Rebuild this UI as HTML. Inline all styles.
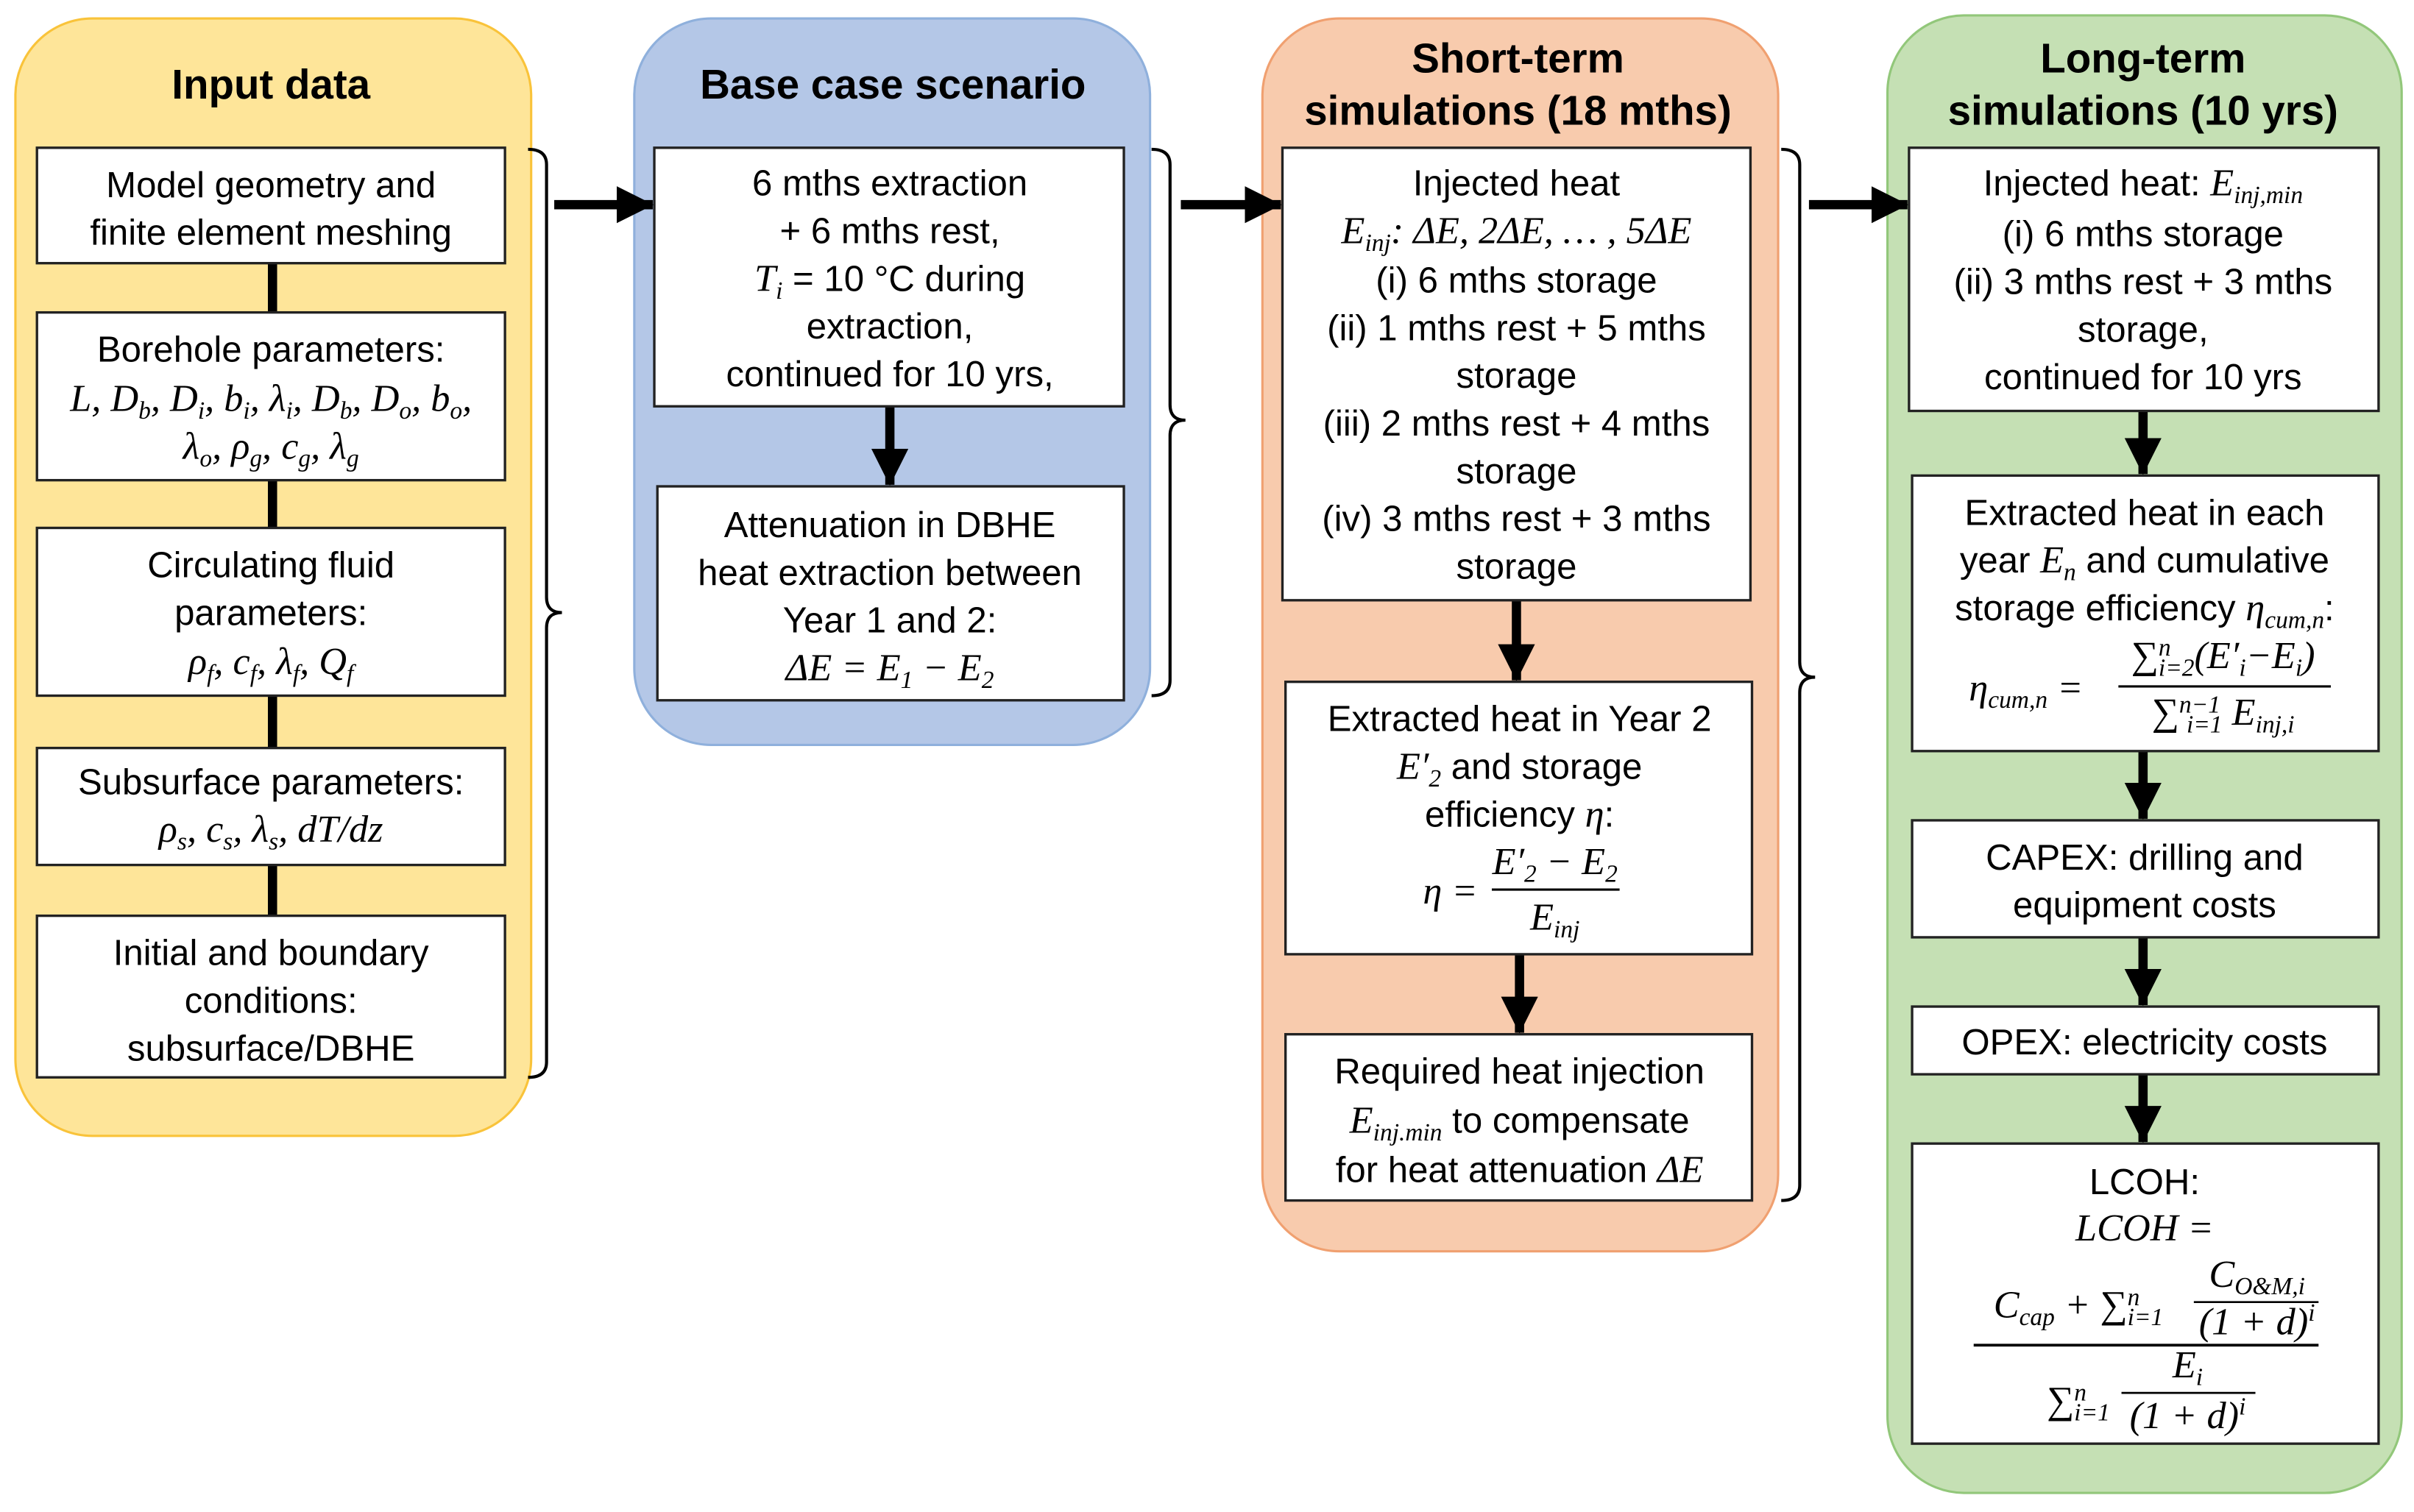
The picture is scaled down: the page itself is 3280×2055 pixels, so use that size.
<!DOCTYPE html>
<html><head><meta charset="utf-8"><style>
html,body{margin:0;padding:0;background:#fff}
svg{display:block}
text{font-family:"Liberation Sans",Arial,sans-serif;font-size:23.5px;fill:#000;text-anchor:middle}
.t{font-weight:bold;font-size:27px}
.m{font-family:"Liberation Serif",serif;font-style:italic;font-size:25px}
.u{font-family:"Liberation Serif",serif;font-style:normal}
.s{font-size:16px}
.box{fill:#fff;stroke:#222;stroke-width:1.6}
.ln{stroke:#000;stroke-width:6;fill:none}
.br{stroke:#000;stroke-width:2;fill:none}
</style></head><body>
<svg width="3280" height="2055" viewBox="0 0 1568 982.4" xmlns="http://www.w3.org/2000/svg">
<defs>
<marker id="ah" markerWidth="5" markerHeight="5" refX="3.9" refY="2" orient="auto" markerUnits="strokeWidth"><path d="M0,0 L4,2 L0,4 z" fill="#000"/></marker>
</defs>
<!-- panels -->
<rect x="10" y="12" width="335" height="726" rx="50" fill="#fee599" stroke="#f9c33a" stroke-width="1.5"/>
<rect x="412" y="12" width="335" height="472" rx="50" fill="#b4c7e7" stroke="#8fb0dc" stroke-width="1.5"/>
<rect x="820" y="12" width="335" height="801" rx="50" fill="#f8cbad" stroke="#f0a070" stroke-width="1.5"/>
<rect x="1226" y="10" width="334" height="960" rx="50" fill="#c5e0b4" stroke="#92c77a" stroke-width="1.5"/>

<!-- titles -->
<text class="t" x="176" y="64">Input data</text>
<text class="t" x="580" y="64">Base case scenario</text>
<text class="t" x="986" y="47">Short-term</text>
<text class="t" x="986" y="81">simulations (18 mths)</text>
<text class="t" x="1392" y="47">Long-term</text>
<text class="t" x="1392" y="81">simulations (10 yrs)</text>

<!-- yellow connectors -->
<line class="ln" x1="177" y1="171" x2="177" y2="203"/>
<line class="ln" x1="177" y1="312" x2="177" y2="343"/>
<line class="ln" x1="177" y1="452" x2="177" y2="486"/>
<line class="ln" x1="177" y1="562" x2="177" y2="595"/>

<!-- yellow boxes -->
<rect class="box" x="24" y="96" width="304" height="75"/>
<text x="176" y="128">Model geometry and</text>
<text x="176" y="159">finite element meshing</text>
<rect class="box" x="24" y="203" width="304" height="109"/>
<text x="176" y="235">Borehole parameters:</text>
<text class="m" x="176" y="267">L, D<tspan class="s" dy="5">b</tspan><tspan dy="-5">, D</tspan><tspan class="s" dy="5">i</tspan><tspan dy="-5">, b</tspan><tspan class="s" dy="5">i</tspan><tspan dy="-5">, λ</tspan><tspan class="s" dy="5">i</tspan><tspan dy="-5">, D</tspan><tspan class="s" dy="5">b</tspan><tspan dy="-5">, D</tspan><tspan class="s" dy="5">o</tspan><tspan dy="-5">, b</tspan><tspan class="s" dy="5">o</tspan><tspan dy="-5">,</tspan></text>
<text class="m" x="176" y="298">λ<tspan class="s" dy="5">o</tspan><tspan dy="-5">, ρ</tspan><tspan class="s" dy="5">g</tspan><tspan dy="-5">, c</tspan><tspan class="s" dy="5">g</tspan><tspan dy="-5">, λ</tspan><tspan class="s" dy="5">g</tspan></text>
<rect class="box" x="24" y="343" width="304" height="109"/>
<text x="176" y="375">Circulating fluid</text>
<text x="176" y="406">parameters:</text>
<text class="m" x="176" y="438">ρ<tspan class="s" dy="5">f</tspan><tspan dy="-5">, c</tspan><tspan class="s" dy="5">f</tspan><tspan dy="-5">, λ</tspan><tspan class="s" dy="5">f</tspan><tspan dy="-5">, Q</tspan><tspan class="s" dy="5">f</tspan></text>
<rect class="box" x="24" y="486" width="304" height="76"/>
<text x="176" y="516">Subsurface parameters:</text>
<text class="m" x="176" y="547">ρ<tspan class="s" dy="5">s</tspan><tspan dy="-5">, c</tspan><tspan class="s" dy="5">s</tspan><tspan dy="-5">, λ</tspan><tspan class="s" dy="5">s</tspan><tspan dy="-5">, dT/dz</tspan></text>
<rect class="box" x="24" y="595" width="304" height="105"/>
<text x="176" y="627">Initial and boundary</text>
<text x="176" y="658">conditions:</text>
<text x="176" y="689">subsurface/DBHE</text>

<!-- braces -->
<path class="br" d="M343,97 q12,0 12,10 V388 q0,10 10,10 q-10,0 -10,10 V690 q0,10 -12,10"/>
<path class="br" d="M748,97 q12,0 12,10 V263 q0,10 10,10 q-10,0 -10,10 V442 q0,10 -12,10"/>
<path class="br" d="M1157,97 q12,0 12,10 V430 q0,10 10,10 q-10,0 -10,10 V770 q0,10 -12,10"/>

<!-- horizontal arrows -->
<line class="ln" x1="360" y1="133" x2="424" y2="133" marker-end="url(#ah)"/>
<line class="ln" x1="767" y1="133" x2="832" y2="133" marker-end="url(#ah)"/>
<line class="ln" x1="1175" y1="133" x2="1239" y2="133" marker-end="url(#ah)"/>

<!-- blue -->
<line class="ln" x1="578" y1="264" x2="578" y2="315" marker-end="url(#ah)"/>
<rect class="box" x="425" y="96" width="305" height="168"/>
<text x="578" y="127">6 mths extraction</text>
<text x="578" y="158">+ 6 mths rest,</text>
<text x="578" y="189"><tspan class="m">T</tspan><tspan class="m s" dy="5">i</tspan><tspan dy="-5"> = 10 °C during</tspan></text>
<text x="578" y="220">extraction,</text>
<text x="578" y="251">continued for 10 yrs,</text>
<rect class="box" x="427" y="316" width="303" height="139"/>
<text x="578" y="349">Attenuation in DBHE</text>
<text x="578" y="380">heat extraction between</text>
<text x="578" y="411">Year 1 and 2:</text>
<text class="m" x="578" y="442">ΔE = E<tspan class="s" dy="5">1</tspan><tspan dy="-5"> − E</tspan><tspan class="s" dy="5">2</tspan></text>

<!-- orange -->
<line class="ln" x1="985" y1="390" x2="985" y2="442" marker-end="url(#ah)"/>
<line class="ln" x1="987" y1="620" x2="987" y2="671" marker-end="url(#ah)"/>
<rect class="box" x="833" y="96" width="304" height="294"/>
<text x="985" y="127">Injected heat</text>
<text class="m" x="985" y="158">E<tspan class="s" dy="5">inj</tspan><tspan dy="-5">: ΔE, 2ΔE, … , 5ΔE</tspan></text>
<text x="985" y="190">(i) 6 mths storage</text>
<text x="985" y="221">(ii) 1 mths rest + 5 mths</text>
<text x="985" y="252">storage</text>
<text x="985" y="283">(iii) 2 mths rest + 4 mths</text>
<text x="985" y="314">storage</text>
<text x="985" y="345">(iv) 3 mths rest + 3 mths</text>
<text x="985" y="376">storage</text>
<rect class="box" x="835" y="443" width="303" height="177"/>
<text x="987" y="475">Extracted heat in Year 2</text>
<text x="987" y="506"><tspan class="m">E′</tspan><tspan class="m s" dy="5">2</tspan><tspan dy="-5"> and storage</tspan></text>
<text x="987" y="537">efficiency <tspan class="m">η</tspan>:</text>
<text class="m" x="942" y="587">η =</text>
<text class="m" x="1010" y="568">E′<tspan class="s" dy="5">2</tspan><tspan dy="-5"> − E</tspan><tspan class="s" dy="5">2</tspan></text>
<line x1="969" y1="578" x2="1052" y2="578" stroke="#000" stroke-width="1.5"/>
<text class="m" x="1010" y="604">E<tspan class="s" dy="5">inj</tspan></text>
<rect class="box" x="835" y="672" width="303" height="108"/>
<text x="987" y="704">Required heat injection</text>
<text x="987" y="736"><tspan class="m">E</tspan><tspan class="m s" dy="5">inj.min</tspan><tspan dy="-5"> to compensate</tspan></text>
<text x="987" y="768">for heat attenuation <tspan class="m">ΔE</tspan></text>

<!-- green -->
<line class="ln" x1="1392" y1="267" x2="1392" y2="308" marker-end="url(#ah)"/>
<line class="ln" x1="1392" y1="488" x2="1392" y2="532" marker-end="url(#ah)"/>
<line class="ln" x1="1392" y1="609" x2="1392" y2="653" marker-end="url(#ah)"/>
<line class="ln" x1="1392" y1="698" x2="1392" y2="742" marker-end="url(#ah)"/>
<rect class="box" x="1240" y="96" width="305" height="171"/>
<text x="1392" y="127">Injected heat: <tspan class="m">E</tspan><tspan class="m s" dy="5">inj,min</tspan></text>
<text x="1392" y="160">(i) 6 mths storage</text>
<text x="1392" y="191">(ii) 3 mths rest + 3 mths</text>
<text x="1392" y="222">storage,</text>
<text x="1392" y="253">continued for 10 yrs</text>
<rect class="box" x="1242" y="309" width="303" height="179"/>
<text x="1393" y="341">Extracted heat in each</text>
<text x="1393" y="372">year <tspan class="m">E</tspan><tspan class="m s" dy="5">n</tspan><tspan dy="-5"> and cumulative</tspan></text>
<text x="1393" y="403">storage efficiency <tspan class="m">η</tspan><tspan class="m s" dy="5">cum,n</tspan><tspan dy="-5">:</tspan></text>
<text class="m" x="1316" y="455">η<tspan class="s" dy="5">cum,n</tspan><tspan dy="-5"> =</tspan></text>
<text class="m" x="1444" y="434"><tspan class="u">∑</tspan><tspan class="s" dy="-8">n</tspan><tspan class="s" dx="-8" dy="13">i=2</tspan><tspan dy="-5">(E′</tspan><tspan class="s" dy="5">i</tspan><tspan dy="-5">−E</tspan><tspan class="s" dy="5">i</tspan><tspan dy="-5">)</tspan></text>
<line x1="1376" y1="446" x2="1514" y2="446" stroke="#000" stroke-width="1.5"/>
<text class="m" x="1444" y="471"><tspan class="u">∑</tspan><tspan class="s" dy="-8">n−1</tspan><tspan class="s" dx="-22" dy="13">i=1</tspan><tspan dy="-5"> E</tspan><tspan class="s" dy="5">inj,i</tspan></text>
<rect class="box" x="1242" y="533" width="303" height="76"/>
<text x="1393" y="565">CAPEX: drilling and</text>
<text x="1393" y="596">equipment costs</text>
<rect class="box" x="1242" y="654" width="303" height="44"/>
<text x="1393" y="685">OPEX: electricity costs</text>
<rect class="box" x="1242" y="743" width="303" height="195"/>
<text x="1393" y="776">LCOH:</text>
<text class="m" x="1393" y="806">LCOH =</text>
<text class="m" x="1350" y="856">C<tspan class="s" dy="5">cap</tspan><tspan dy="-5"> + </tspan><tspan class="u">∑</tspan><tspan class="s" dy="-8">n</tspan><tspan class="s" dx="-8" dy="13">i=1</tspan><tspan dy="-5"></tspan></text>
<text class="m" x="1466" y="836">C<tspan class="s" dy="5">O&amp;M,i</tspan></text>
<line x1="1425" y1="846" x2="1506" y2="846" stroke="#000" stroke-width="1.3"/>
<text class="m" x="1466" y="867">(1 + d)<tspan class="s" dy="-9">i</tspan></text>
<line x1="1282" y1="874" x2="1506" y2="874" stroke="#000" stroke-width="1.8"/>
<text class="m" x="1350" y="918"><tspan class="u">∑</tspan><tspan class="s" dy="-8">n</tspan><tspan class="s" dx="-8" dy="13">i=1</tspan></text>
<text class="m" x="1421" y="895">E<tspan class="s" dy="5">i</tspan></text>
<line x1="1378" y1="905" x2="1465" y2="905" stroke="#000" stroke-width="1.3"/>
<text class="m" x="1421" y="928">(1 + d)<tspan class="s" dy="-9">i</tspan></text>
</svg>
</body></html>
